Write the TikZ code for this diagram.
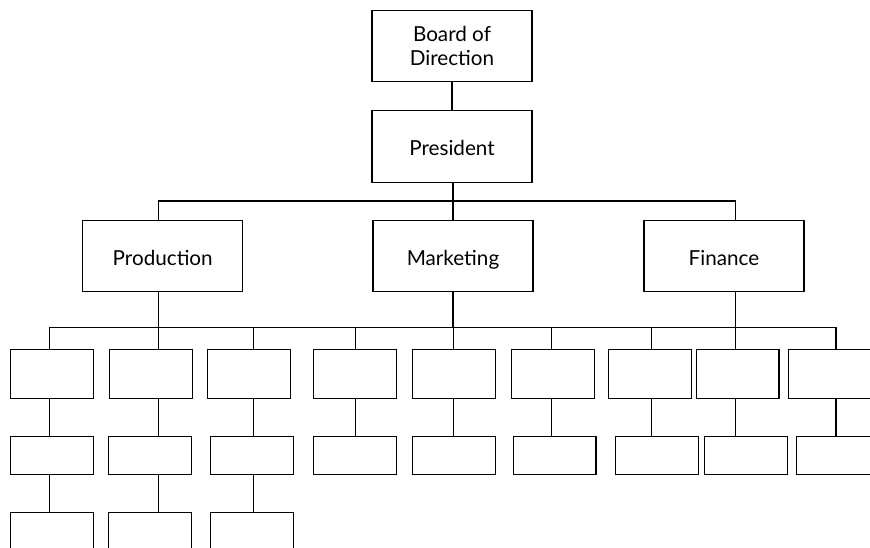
\documentclass[tikz,border=0pt]{standalone}
\usepackage{fontspec}
\setmainfont{Lato}

\begin{document}
\begin{tikzpicture}[x=0.75pt,y=-0.75pt,line width=0.8pt,
    unit/.style={draw, inner sep=0pt, align=center, font=\fontsize{15.5}{18.5}\selectfont},
    topbox/.style={unit, minimum width=120pt, minimum height=53.6pt},
    deptbox/.style={unit, minimum width=120pt, minimum height=53.5pt, text height=14pt, text depth=0pt},
    subbox/.style={unit, minimum width=62.2pt, minimum height=37pt},
    lowbox/.style={unit, minimum width=62.2pt, minimum height=28pt}]

    \useasboundingbox (0,0) rectangle (870,548);

    % top of the chart
    \node[topbox] (board) at (452,46) {Board of\\Direction};
    \node[deptbox] (pres) at (452,146.5) {President};
    \draw (board) -- (pres);

    % departments
    \node[deptbox] (prod) at (162.7,256.3) {Production};
    \node[deptbox] (mark) at (453,256.3) {Marketing};
    \node[deptbox] (fin) at (724,256.3) {Finance};

    \coordinate (bus1) at (453.3,201);

    % sub units, one column each
    \foreach \i/\k/\a/\b in {1/49.3/51.8/51.8, 2/158.3/151.3/149.8, 3/253.3/249.2/252.2,
        4/355.7/355.2/355.2, 5/453.3/453.8/453.8, 6/551.7/552.7/554.5,
        7/651.7/649.8/657.2, 8/735.7/737.5/745.8, 9/836/830.2/837.8} {
        \coordinate (k\i) at (\k,327.3);
        \node[subbox] (s\i) at (\a,374) {};
        \node[lowbox] (t\i) at (\b,455.5) {};
        \draw (k\i) -- (k\i |- s\i.north);
        \draw (k\i |- s\i.south) -- (k\i |- t\i.north);
    }
    \foreach \i/\b in {1/51.8, 2/149.8, 3/252.2} {
        \node[subbox] (u\i) at (\b,537) {};
        \draw (k\i |- t\i.south) -- (k\i |- u\i.north);
    }

    % connectors
    \draw (pres.south -| mark) -- (mark.north);
    \draw (bus1 -| k2) -- (bus1 -| k8);
    \draw (bus1 -| k2) -- (prod.north -| k2);
    \draw (bus1 -| k8) -- (fin.north -| k8);
    \draw (k1) -- (k9);
    \draw (prod.south -| k2) -- (k2);
    \draw (mark.south) -- (mark.south |- k5);
    \draw (fin.south -| k8) -- (k8);
\end{tikzpicture}
\end{document}
